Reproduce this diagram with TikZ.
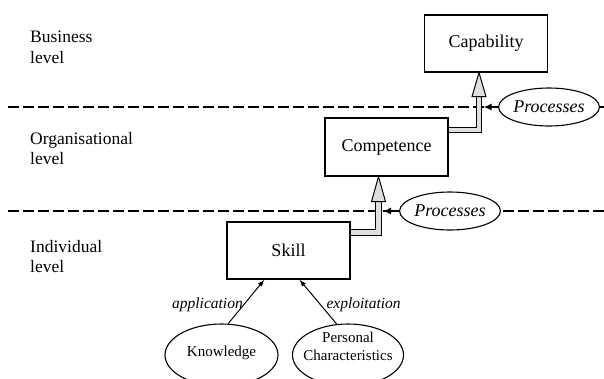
\documentclass[tikz,border=0pt]{standalone}
\usepackage{fontspec}
\setmainfont{Liberation Serif}
\usetikzlibrary{arrows.meta,calc,shapes.geometric}

\begin{document}
\begin{tikzpicture}[x=1pt,y=-1pt,
  box/.style={draw, line width=1.2pt, minimum width=123pt, minimum height=57pt,
    inner sep=0pt, font=\fontsize{18}{21}\selectfont},
  oval/.style={draw, ellipse, line width=1.1pt, fill=white, inner sep=0pt,
    align=center, font=\fontsize{15}{18}\selectfont},
  ovaltext/.style={inner sep=0pt, align=center, font=\fontsize{15}{18}\selectfont},
  procoval/.style={draw, ellipse, line width=1.1pt, fill=white, inner sep=0pt,
    minimum width=93pt, minimum height=38pt, font=\fontsize{18}{21}\selectfont\itshape},
  levellabel/.style={anchor=north west, inner sep=0pt, align=left,
    font=\fontsize{17.5}{20.5}\selectfont},
  divider/.style={line width=1.3pt, dash pattern=on 10.5pt off 4.5pt},
  feed/.style={line width=1pt, -{Latex[length=7pt,width=5pt]}},
  edgelabel/.style={font=\fontsize{15.5}{18}\selectfont\itshape, inner sep=0pt},
  procarrow/.style={line width=2pt, -{Latex[length=8pt,width=7pt]}},
  shaft/.style={draw=black, line width=1pt, double=gray!25, double distance=4.5pt,
    line join=miter, line cap=butt},
  head/.style={draw=black, fill=gray!25, line width=1pt, line join=miter}
]
\useasboundingbox (0,0) rectangle (604,378);

% level dividers
\coordinate (d1a) at (8,107);   \coordinate (d1b) at (604,107);
\coordinate (d2a) at (8,211);   \coordinate (d2b) at (604,211);
\draw[divider] (d1a) -- (d1b);
\draw[divider] (d2a) -- (d2b);

% level captions
\node[levellabel] (lbus) at (30,31)  {Business\\level};
\node[levellabel] (lorg) at (30,132) {Organisational\\level};
\node[levellabel] (lind) at (30,240) {Individual\\level};

% main boxes
\node[box, minimum height=57pt] (cap)   at (486,43.5)  {Capability};
\node[box, minimum height=58pt] (comp)  at (386.5,147) {Competence};
\node[box, minimum height=57pt] (skill) at (288.5,250.5) {Skill};

% sources of skill
\node[oval, minimum width=113pt, minimum height=62pt] (know) at (221.5,355) {};
\node[ovaltext] (knowtext) at ($(know.center)+(0,-2)$) {Knowledge};
\node[oval, minimum width=111pt, minimum height=62pt] (pers) at (348,355) {};
\node[ovaltext] (perstext) at ($(pers.center)+(0,-9)$) {Personal\\Characteristics};

\draw[feed] (know.78) -- ($(skill.south west)+(38,0)$)
  node[edgelabel, midway, anchor=east, xshift=-3pt, yshift=-3pt] {application};
\draw[feed] (pers.110) -- ($(skill.south west)+(73,0)$)
  node[edgelabel, midway, anchor=west, xshift=8pt, yshift=-3pt] {exploitation};

% processes
\node[procoval] (procA) at (549,107) {Processes};
\node[procoval] (procB) at (450,211) {Processes};

% skill -> competence
\coordinate (tip1)  at ($(comp.south)+(-8,0)$);
\coordinate (base1) at ($(tip1)+(0,25)$);
\path[shaft] ($(skill.north east)+(0,11)$) -| (base1);
\path[head] (tip1) -- ($(tip1)+(-7,25)$) -- ($(tip1)+(7,25)$) -- cycle;
\draw[procarrow] (procB.west) -- ($(procB.west -| base1)+(4.5,0)$);

% competence -> capability
\coordinate (tip2)  at ($(cap.south)+(-7,0)$);
\coordinate (base2) at ($(tip2)+(0,24)$);
\path[shaft] ($(comp.north east)+(0,12.5)$) -| (base2);
\path[head] (tip2) -- ($(tip2)+(-7,24)$) -- ($(tip2)+(7,24)$) -- cycle;
\draw[procarrow] (procA.west) -- ($(procA.west -| base2)+(4.5,0)$);
\end{tikzpicture}
\end{document}
